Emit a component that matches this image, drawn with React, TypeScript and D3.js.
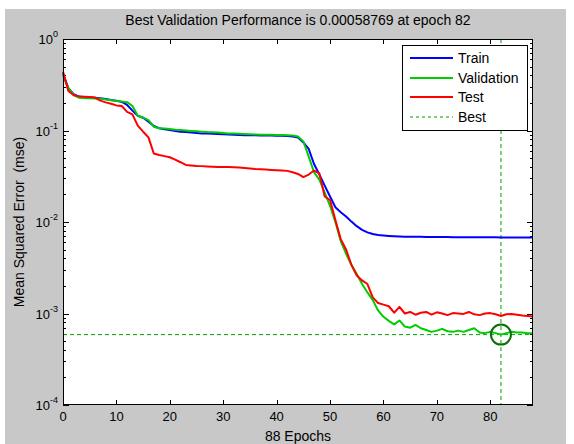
import React, { useEffect, useRef } from 'react';
import * as d3 from 'd3';

// performance per epoch (mse), epochs 0..88
const trainPerf = [
  0.42, 0.29, 0.25, 0.235, 0.232, 0.230, 0.228, 0.225, 0.221, 0.216,
  0.212, 0.205, 0.19, 0.165, 0.145, 0.138, 0.125, 0.112, 0.106, 0.103,
  0.101, 0.099, 0.097, 0.096, 0.095, 0.094, 0.093, 0.0925, 0.092, 0.0915,
  0.091, 0.0905, 0.090, 0.0895, 0.089, 0.0888, 0.0886, 0.0884, 0.0882, 0.088,
  0.0878, 0.0875, 0.087, 0.086, 0.084, 0.074, 0.063, 0.043, 0.033, 0.025,
  0.019, 0.0145, 0.0128, 0.0115, 0.0101, 0.009, 0.0082, 0.0077, 0.0074, 0.0072,
  0.00712, 0.00705, 0.007, 0.00695, 0.00692, 0.0069, 0.00689, 0.00688, 0.00687, 0.00686,
  0.00685, 0.00684, 0.00684, 0.00683, 0.00683, 0.00682, 0.00682, 0.00681, 0.00681, 0.0068,
  0.0068, 0.0068, 0.00679, 0.00679, 0.00679, 0.00678, 0.00678, 0.00678, 0.00677
];
const valPerf = [
  0.40, 0.29, 0.245, 0.228, 0.226, 0.225, 0.224, 0.223, 0.218, 0.214,
  0.210, 0.207, 0.204, 0.185, 0.145, 0.138, 0.130, 0.110, 0.106, 0.105,
  0.104, 0.102, 0.101, 0.100, 0.099, 0.098, 0.097, 0.096, 0.0955, 0.095,
  0.094, 0.093, 0.0925, 0.092, 0.0915, 0.091, 0.0905, 0.090, 0.0898, 0.0896,
  0.0894, 0.0892, 0.089, 0.088, 0.086, 0.076, 0.052, 0.035, 0.029, 0.021,
  0.015, 0.010, 0.0062, 0.0045, 0.0034, 0.0027, 0.0021, 0.0017, 0.0014, 0.00108,
  0.00092, 0.00083, 0.00076, 0.00084, 0.00072, 0.00070, 0.00075, 0.00069, 0.00066, 0.00063,
  0.00065, 0.00068, 0.00064, 0.00063, 0.00065, 0.00063, 0.00066, 0.00069, 0.00062, 0.00061,
  0.00063, 0.00061, 0.00058769, 0.00061, 0.00063, 0.00062, 0.00062, 0.00061, 0.00061
];
const testPerf = [
  0.44, 0.27, 0.243, 0.236, 0.234, 0.232, 0.229, 0.212, 0.203, 0.196,
  0.188, 0.185, 0.160, 0.150, 0.113, 0.097, 0.084, 0.056, 0.054, 0.0525,
  0.051, 0.048, 0.045, 0.042, 0.0415, 0.041, 0.0408, 0.0405, 0.0402, 0.040,
  0.0399, 0.0398, 0.0397, 0.0395, 0.039, 0.0385, 0.038, 0.0377, 0.0374, 0.0371,
  0.0368, 0.0366, 0.0362, 0.035, 0.0335, 0.031, 0.033, 0.0365, 0.034, 0.019,
  0.0174, 0.0105, 0.0065, 0.005, 0.0034, 0.0026, 0.0023, 0.0021, 0.0015, 0.0013,
  0.00125, 0.0012, 0.00102, 0.00118, 0.001, 0.00104, 0.00097, 0.00102, 0.00104, 0.00097,
  0.00103, 0.001, 0.00096, 0.00101, 0.001, 0.00099, 0.00104, 0.00098, 0.00096, 0.001,
  0.00101, 0.00098, 0.00094, 0.00098, 0.00099, 0.00097, 0.00095, 0.00094, 0.00093
];

const bestEpoch = 82;
const bestPerf = 0.00058769;
const numEpochs = 88;
const xTicks = [0, 10, 20, 30, 40, 50, 60, 70, 80];
const yDecades = [-4, -3, -2, -1, 0];
const legendNames = ['Train', 'Validation', 'Test', 'Best'];
const legendColors = ['#0000ff', '#00cc00', '#ff0000', '#00a000'];

const FONT = '"Liberation Sans", Arial, sans-serif';

export default function App() {
  const svgRef = useRef<SVGSVGElement | null>(null);

  useEffect(() => {
    const svg = d3.select(svgRef.current);
    svg.selectAll('*').remove();

    const left = 63, right = 533, top = 39, bottom = 405;
    const x = d3.scaleLinear().domain([0, numEpochs]).range([left, right]);
    const y = d3.scaleLog().domain([1e-4, 1]).range([bottom, top]);

    // figure background
    svg.append('rect').attr('x', 5).attr('y', 9).attr('width', 561).attr('height', 435)
      .attr('fill', '#c8c8c8');
    svg.append('rect').attr('x', left).attr('y', top)
      .attr('width', right - left).attr('height', bottom - top).attr('fill', '#fff');

    // ticks
    const tickG = svg.append('g').attr('stroke', '#000').attr('stroke-width', 1);
    xTicks.forEach(t => {
      const px = Math.round(x(t)) + 0.5;
      tickG.append('line').attr('x1', px).attr('x2', px).attr('y1', bottom).attr('y2', bottom - 5);
      tickG.append('line').attr('x1', px).attr('x2', px).attr('y1', top).attr('y2', top + 5);
    });
    yDecades.forEach(d => {
      const py = Math.round(y(Math.pow(10, d))) + 0.5;
      tickG.append('line').attr('x1', left).attr('x2', left + 6).attr('y1', py).attr('y2', py);
      tickG.append('line').attr('x1', right).attr('x2', right - 6).attr('y1', py).attr('y2', py);
      if (d < 0) {
        for (let k = 2; k <= 9; k++) {
          const my = Math.round(y(k * Math.pow(10, d))) + 0.5;
          tickG.append('line').attr('x1', left).attr('x2', left + 3).attr('y1', my).attr('y2', my);
          tickG.append('line').attr('x1', right).attr('x2', right - 3).attr('y1', my).attr('y2', my);
        }
      }
    });

    // best lines
    const bx = x(bestEpoch), by = y(bestPerf);
    svg.append('line').attr('x1', left).attr('x2', right).attr('y1', by).attr('y2', by)
      .attr('stroke', '#00a000').attr('stroke-width', 1).attr('stroke-dasharray', '4,3');
    svg.append('line').attr('x1', bx).attr('x2', bx).attr('y1', top).attr('y2', bottom)
      .attr('stroke', '#00a000').attr('stroke-width', 1).attr('stroke-dasharray', '4,3');

    // curves
    const line = d3.line<number>()
      .x((d, i) => x(i))
      .y(d => y(d));
    [[trainPerf, '#0000ff'], [valPerf, '#00cc00'], [testPerf, '#ff0000']].forEach(([data, color]) => {
      svg.append('path').attr('d', line(data as number[]))
        .attr('fill', 'none').attr('stroke', color as string).attr('stroke-width', 2)
        .attr('stroke-linejoin', 'round');
    });

    svg.append('circle').attr('cx', bx).attr('cy', by).attr('r', 10)
      .attr('fill', 'none').attr('stroke', '#087008').attr('stroke-width', 2);

    // frame
    svg.append('rect').attr('x', left + 0.5).attr('y', top + 0.5)
      .attr('width', right - left - 1).attr('height', bottom - top - 1)
      .attr('fill', 'none').attr('stroke', '#000').attr('stroke-width', 1);

    // tick labels
    xTicks.forEach(t => {
      svg.append('text').attr('x', x(t)).attr('y', 421).attr('text-anchor', 'middle')
        .attr('font-family', FONT).attr('font-size', 13).text(String(t));
    });
    yDecades.forEach(d => {
      const txt = svg.append('text').attr('x', 58).attr('y', y(Math.pow(10, d)) + 5)
        .attr('text-anchor', 'end').attr('font-family', FONT).attr('font-size', 13);
      txt.append('tspan').text('10');
      txt.append('tspan').attr('dy', -7).attr('font-size', 9).text(String(d));
    });

    // labels
    svg.append('text').attr('x', (left + right) / 2).attr('y', 25).attr('text-anchor', 'middle')
      .attr('font-family', FONT).attr('font-size', 14)
      .text(`Best Validation Performance is ${bestPerf} at epoch ${bestEpoch}`);
    svg.append('text').attr('x', (left + right) / 2).attr('y', 441).attr('text-anchor', 'middle')
      .attr('font-family', FONT).attr('font-size', 14).text(`${numEpochs} Epochs`);
    svg.append('text').attr('transform', `translate(24,${(top + bottom) / 2}) rotate(-90)`)
      .attr('text-anchor', 'middle').attr('font-family', FONT).attr('font-size', 14)
      .style('white-space', 'pre').text('Mean Squared Error  (mse)');

    // legend
    const lg = svg.append('g');
    lg.append('rect').attr('x', 402.5).attr('y', 45.5).attr('width', 125).attr('height', 85)
      .attr('fill', '#fff').attr('stroke', '#000').attr('stroke-width', 1);
    const rows = [58, 78, 97, 117];
    legendNames.forEach((name, i) => {
      lg.append('line').attr('x1', 410).attr('x2', 453).attr('y1', rows[i]).attr('y2', rows[i])
        .attr('stroke', legendColors[i]).attr('stroke-width', i === 3 ? 1 : 2)
        .attr('stroke-dasharray', i === 3 ? '3,3' : null);
      lg.append('text').attr('x', 458).attr('y', rows[i] + 5)
        .attr('font-family', FONT).attr('font-size', 14).text(name);
    });
  }, []);

  return (
    <svg
      ref={svgRef}
      width={574}
      height={444}
      style={{ position: 'absolute', left: 0, top: 0, background: '#fff' }}
    />
  );
}
